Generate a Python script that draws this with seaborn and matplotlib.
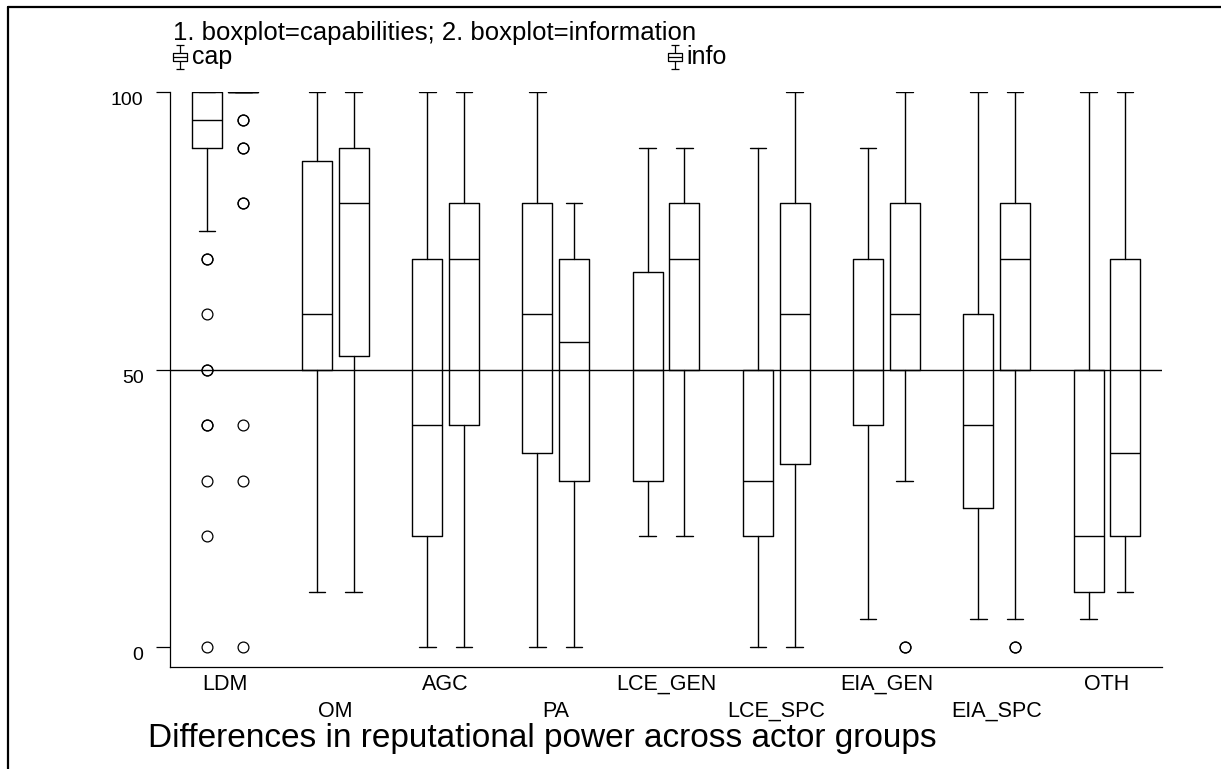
import numpy as np
import pandas as pd
import seaborn as sns
import matplotlib
matplotlib.use("Agg")
import matplotlib.pyplot as plt
from matplotlib.path import Path
from matplotlib.lines import Line2D

# ---------------- data ----------------
groups = ["LDM", "OM", "AGC", "PA", "LCE_GEN", "LCE_SPC", "EIA_GEN", "EIA_SPC", "OTH"]

cap_whislo = [75, 10, 0, 0, 20, 0, 5, 5, 5]
cap_q1     = [90, 50, 20, 35, 30, 20, 40, 25, 10]
cap_med    = [95, 60, 40, 60, 50, 30, 50, 40, 20]
cap_q3     = [100, 87.5, 70, 80, 67.5, 50, 70, 60, 50]
cap_whishi = [100, 100, 100, 100, 90, 90, 90, 100, 100]
cap_fliers = [[70, 70, 60, 50, 50, 40, 40, 30, 20, 0], [], [], [], [], [], [], [], []]

info_whislo = [100, 10, 0, 0, 20, 0, 30, 5, 10]
info_q1     = [100, 52.5, 40, 30, 50, 33, 50, 50, 20]
info_med    = [100, 80, 70, 55, 70, 60, 60, 70, 35]
info_q3     = [100, 90, 80, 70, 80, 80, 80, 80, 70]
info_whishi = [100, 100, 100, 80, 90, 100, 100, 100, 100]
info_fliers = [[95, 95, 90, 90, 80, 80, 40, 30, 0], [], [], [], [], [], [0, 0], [0, 0], []]

yticks = [0, 50, 100]
legend_title = "1. boxplot=capabilities; 2. boxplot=information"
series_labels = ["cap", "info"]
caption = "Differences in reputational power across actor groups"

# ---------------- style ----------------
sns.set_theme(style="white")
plt.rcParams["font.family"] = ["Liberation Sans", "DejaVu Sans"]

W, H = 1221, 769
fig = plt.figure(figsize=(W / 100, H / 100), dpi=100)
ax = fig.add_axes([170 / W, 1 - 667 / H, (1162 - 170) / W, (667 - 92) / H])


def make_stats(lo, q1, med, q3, hi, fl):
    return [dict(whislo=a, q1=b, med=c, q3=d, whishi=e, fliers=np.array(f, dtype=float))
            for a, b, c, d, e, f in zip(lo, q1, med, q3, hi, fl)]


cap_stats = make_stats(cap_whislo, cap_q1, cap_med, cap_q3, cap_whishi, cap_fliers)
info_stats = make_stats(info_whislo, info_q1, info_med, info_q3, info_whishi, info_fliers)

x = np.arange(len(groups))
off = 0.166
lw = 1.0
common = dict(
    widths=0.272,
    capwidths=0.15,
    showfliers=True,
    patch_artist=False,
    boxprops=dict(color="black", linewidth=lw),
    medianprops=dict(color="black", linewidth=lw),
    whiskerprops=dict(color="black", linewidth=lw),
    capprops=dict(color="black", linewidth=lw),
    flierprops=dict(marker="o", markerfacecolor="none", markeredgecolor="black",
                    markersize=7.8, markeredgewidth=0.9, linestyle="none"),
    manage_ticks=False,
)
ax.axhline(50, color="black", linewidth=lw, zorder=1)
ax.bxp(cap_stats, positions=x - off, **common)
ax.bxp(info_stats, positions=x + off, **common)

ax.set_xlim(-0.5, len(groups) - 0.5)
ax.set_ylim(-3.6, 100)
ax.set_yticks(yticks)
ax.set_yticklabels([str(v) for v in yticks])
ax.set_xticks(x)
ax.set_xticklabels([g if i % 2 == 0 else "\n" + g for i, g in enumerate(groups)],
                   linespacing=1.35)
ax.tick_params(axis="y", left=True, length=10, width=0.9, pad=9, labelsize=14, colors="black")
ax.tick_params(axis="x", bottom=False, length=0, pad=5, labelsize=15.5, colors="black")
for lab in ax.get_yticklabels():
    lab.set_va("top")
sns.despine(ax=ax)
for s in ("left", "bottom"):
    ax.spines[s].set_color("black")
    ax.spines[s].set_linewidth(0.9)
ax.grid(False)

# ---------------- legend (text + small boxplot glyphs) ----------------
glyph = Path(
    [(-0.55, -0.28), (0.55, -0.28), (0.55, 0.28), (-0.55, 0.28), (-0.55, -0.28),
     (-0.55, 0.0), (0.55, 0.0),
     (0.0, 0.28), (0.0, 0.9),
     (-0.32, 0.9), (0.32, 0.9),
     (0.0, -0.28), (0.0, -0.9),
     (-0.32, -0.9), (0.32, -0.9)],
    [Path.MOVETO, Path.LINETO, Path.LINETO, Path.LINETO, Path.LINETO,
     Path.MOVETO, Path.LINETO,
     Path.MOVETO, Path.LINETO,
     Path.MOVETO, Path.LINETO,
     Path.MOVETO, Path.LINETO,
     Path.MOVETO, Path.LINETO],
)
fig.text(173 / W, 1 - 33 / H, legend_title, ha="left", va="center", fontsize=18.5, color="black")
for gx, tx, lab in [(180, 192, series_labels[0]), (675, 686, series_labels[1])]:
    fig.add_artist(Line2D([gx / W], [1 - 57 / H], transform=fig.transFigure, marker=glyph,
                          markersize=17, markerfacecolor="none", markeredgecolor="black",
                          markeredgewidth=0.9, linestyle="none"))
    fig.text(tx / W, 1 - 57 / H, lab, ha="left", va="center", fontsize=18, color="black")

fig.text(148 / W, 1 - 739 / H, caption, ha="left", va="center", fontsize=24, color="black")

# outer frame (left and top edges)
fig.add_artist(Line2D([8 / W, 8 / W], [0, 1 - 7 / H], transform=fig.transFigure,
                      color="black", linewidth=1.6))
fig.add_artist(Line2D([8 / W, 1], [1 - 7 / H, 1 - 7 / H], transform=fig.transFigure,
                      color="black", linewidth=1.6))

fig.savefig("out.png", dpi=100, facecolor="white")
